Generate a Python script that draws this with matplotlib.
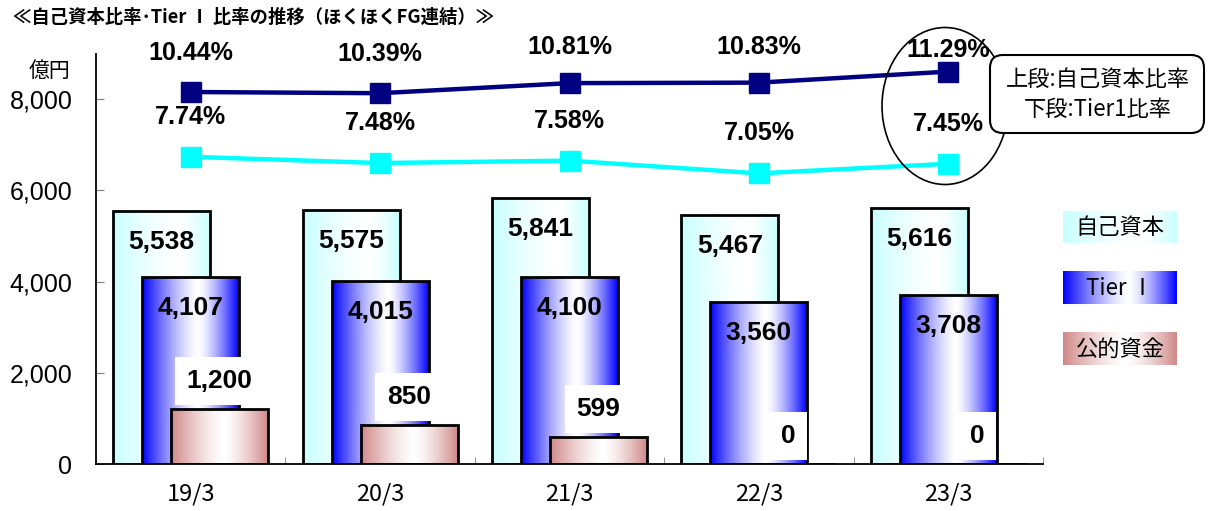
import numpy as np
import matplotlib
matplotlib.use('Agg')
import matplotlib.pyplot as plt
from matplotlib.patches import Ellipse, FancyBboxPatch
from matplotlib.colors import to_rgb
from matplotlib.transforms import IdentityTransform

categories = ['19/3', '20/3', '21/3', '22/3', '23/3']
equity = [5538, 5575, 5841, 5467, 5616]
tier1 = [4107, 4015, 4100, 3560, 3708]
public_funds = [1200, 850, 599, 0, 0]
equity_ratio = [10.44, 10.39, 10.81, 10.83, 11.29]
tier1_ratio = [7.74, 7.48, 7.58, 7.05, 7.45]
yticks = [0, 2000, 4000, 6000, 8000]
series_names = ['自己資本', 'Tier Ⅰ', '公的資金']
title = '≪自己資本比率･Tier Ⅰ 比率の推移（ほくほくFG連結）≫'
unit = '億円'
note_lines = ['上段:自己資本比率', '下段:Tier1比率']

plt.rcParams['font.family'] = ['Liberation Sans', 'DejaVu Sans']
CJK = ['Noto Sans CJK JP', 'DejaVu Sans']
PX = 0.72  # px -> pt at 100 dpi

W, H = 1209, 511
fig = plt.figure(figsize=(W / 100, H / 100), dpi=100)
ax = fig.add_axes([96 / W, 1 - 464 / H, (1043 - 96) / W, (464 - 53.6) / H])


def grad_img(edge, peak, power=1.4):
    t = np.linspace(0, 1, 256)
    d = np.where(t < peak, (peak - t) / peak, (t - peak) / (1 - peak))
    s = 1 - np.clip(d, 0, 1) ** power
    e = np.array(to_rgb(edge))
    cols = e[None, :] + (1 - e)[None, :] * s[:, None]
    return cols[None, :, :]


x = np.arange(len(categories))
width = 0.512
off = 0.153
specs = [
    (equity, -off, '#C8FFFF', 0.68, 2),
    (tier1, 0.0, '#0000FF', 0.58, 4),
    (public_funds, off, '#D08888', 0.55, 6),
]
grads = {}
for vals, o, col, pk, z in specs:
    bars = ax.bar(x + o, vals, width, facecolor='none', edgecolor='black',
                  linewidth=2.0, zorder=z + 0.5)
    img = grad_img(col, pk)
    grads[col] = img
    for b in bars:
        h = b.get_height()
        if h <= 0:
            continue
        x0 = b.get_x()
        im = ax.imshow(img, extent=[x0, x0 + b.get_width(), 0, h], aspect='auto',
                       zorder=z, interpolation='bilinear')
        im.set_clip_path(b)

for i in range(len(categories)):
    ax.annotate(f'{equity[i]:,}', (x[i] - off, equity[i]), xytext=(0, -31 * PX),
                textcoords='offset points', ha='center', va='center',
                fontsize=19, fontweight='bold', zorder=10)
    ax.annotate(f'{tier1[i]:,}', (x[i], tier1[i]), xytext=(0, -31 * PX),
                textcoords='offset points', ha='center', va='center',
                fontsize=19, fontweight='bold', zorder=10)
    ax.annotate(f'{public_funds[i]:,}', (x[i] + off, public_funds[i]), xytext=(0, 28 * PX),
                textcoords='offset points', ha='center', va='center',
                fontsize=19, fontweight='bold', zorder=10,
                bbox=dict(boxstyle='square,pad=0.45', facecolor='white', edgecolor='none'))

ax.set_xlim(-0.5, len(categories) - 0.5)
ax.set_ylim(0, 9000)
ax.set_yticks(yticks)
ax.set_yticklabels([f'{v:,}' for v in yticks])
ax.tick_params(axis='y', direction='in', length=8 * PX, color='#808080', pad=17,
               labelsize=18)
ax.set_xticks(x)
ax.set_xticklabels(categories, fontfamily=CJK, fontsize=17)
ax.tick_params(axis='x', which='major', length=0, pad=13)
ax.set_xticks(np.arange(0.5, len(categories), 1.0), minor=True)
ax.tick_params(axis='x', which='minor', direction='in', length=7 * PX, color='#808080')
for s in ['top', 'right']:
    ax.spines[s].set_visible(False)
for s in ['left', 'bottom']:
    ax.spines[s].set_linewidth(1.3)
    ax.spines[s].set_zorder(12)

ax2 = ax.twinx()
ax2.set_ylim(-5.06, 12.04)
ax2.set_axis_off()
ax2.plot(x, equity_ratio, color='#000080', lw=3.2, marker='s', markersize=14,
         zorder=5)
ax2.plot(x, tier1_ratio, color='#00FFFF', lw=3.2, marker='s', markersize=14,
         zorder=5)
upper_offsets = [39, 39, 36, 36, 22]
for i in range(len(categories)):
    ax2.annotate(f'{equity_ratio[i]:.2f}%', (x[i], equity_ratio[i]),
                 xytext=(0, upper_offsets[i] * PX), textcoords='offset points',
                 ha='center', va='center', fontsize=18, fontweight='bold', zorder=10)
    ax2.annotate(f'{tier1_ratio[i]:.2f}%', (x[i], tier1_ratio[i]),
                 xytext=(0, 40 * PX), textcoords='offset points',
                 ha='center', va='center', fontsize=18, fontweight='bold', zorder=10)

# title and unit
fig.text(13 / W, 1 - 17 / H, title, fontfamily=CJK, fontsize=13.2, fontweight='bold',
         ha='left', va='center')
fig.text(70 / W, 1 - 71 / H, unit, fontfamily=CJK, fontsize=15, ha='right', va='center')

# legend boxes
leg_y = [(211, 243), (271, 304), (332, 365)]
leg_cols = ['#C8FFFF', '#0000FF', '#D08888']
for name, (y0, y1), col in zip(series_names, leg_y, leg_cols):
    lax = fig.add_axes([1063 / W, 1 - y1 / H, 114 / W, (y1 - y0) / H])
    lax.imshow(grads[col], aspect='auto', extent=[0, 1, 0, 1], interpolation='bilinear')
    lax.set_xlim(0, 1)
    lax.set_ylim(0, 1)
    lax.set_axis_off()
    lax.text(0.5, 0.48, name, fontfamily=CJK, fontsize=16, ha='center', va='center')

# ellipse and callout
ell = Ellipse((945, H - 106), 126, 157, fill=False, edgecolor='black', lw=1.2,
              transform=IdentityTransform(), zorder=20)
fig.add_artist(ell)
box = FancyBboxPatch((990, H - 133), 214, 78, boxstyle='round,pad=0,rounding_size=13',
                     facecolor='white', edgecolor='black', lw=1.5,
                     transform=IdentityTransform(), zorder=21)
fig.add_artist(box)
fig.text(1098 / W, 1 - 79 / H, note_lines[0], fontfamily=CJK, fontsize=16,
         ha='center', va='center', zorder=22)
fig.text(1098 / W, 1 - 109 / H, note_lines[1], fontfamily=CJK, fontsize=16,
         ha='center', va='center', zorder=22)

fig.savefig('out.png', dpi=100)
